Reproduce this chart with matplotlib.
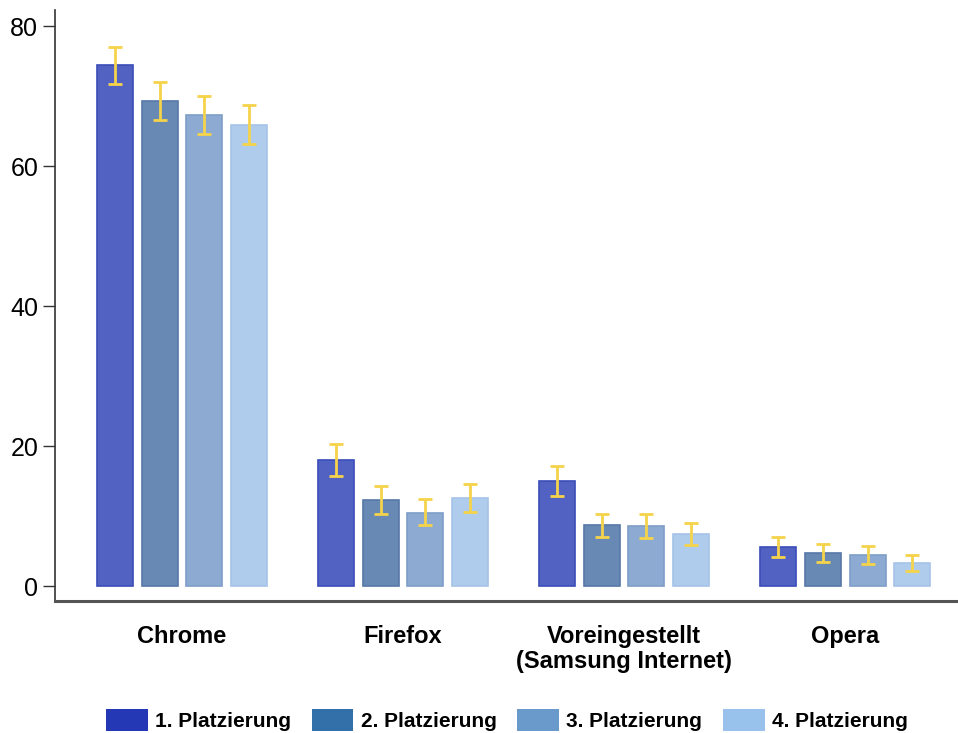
import matplotlib
matplotlib.use("Agg")
import matplotlib.pyplot as plt
import numpy as np
from matplotlib.patches import Patch

categories = ["Chrome", "Firefox", "Voreingestellt\n(Samsung Internet)", "Opera"]
series_names = ["1. Platzierung", "2. Platzierung", "3. Platzierung", "4. Platzierung"]
values = [
    [74.4, 18.0, 15.0, 5.6],
    [69.3, 12.3, 8.7, 4.7],
    [67.3, 10.4, 8.6, 4.4],
    [65.9, 12.6, 7.4, 3.3],
]
err_low = [
    [71.7, 15.7, 12.9, 4.1],
    [66.6, 10.3, 7.0, 3.4],
    [64.6, 8.7, 6.9, 3.1],
    [63.1, 10.6, 5.9, 2.1],
]
err_high = [
    [77.0, 20.3, 17.1, 7.0],
    [72.0, 14.3, 10.3, 6.0],
    [70.0, 12.4, 10.3, 5.7],
    [68.7, 14.6, 9.0, 4.4],
]
yticks = [0, 20, 40, 60, 80]

bar_faces = ["#5262C2", "#6889B3", "#8CAAD2", "#B0CCEC"]
bar_edges = ["#3A4DB8", "#5878A8", "#7E9DC8", "#A5C3E8"]
legend_colors = ["#2437B5", "#3370AA", "#6A9ACB", "#98C2EC"]
err_color = "#F5D34A"

font = "Liberation Sans"

fig = plt.figure(figsize=(9.58, 7.33), dpi=100)
ax = fig.add_axes([55/958, 1-601/733, 1-55/958, (601-10)/733])

x = np.arange(len(categories))
slot = 0.2015
width = 0.163
for i in range(4):
    pos = x + (i - 1.5) * slot
    v = np.array(values[i])
    lo = v - np.array(err_low[i])
    hi = np.array(err_high[i]) - v
    ax.bar(pos, v, width=width, color=bar_faces[i], edgecolor=bar_edges[i], linewidth=1.2, zorder=2)
    ax.errorbar(pos, v, yerr=[lo, hi], fmt="none", ecolor=err_color, elinewidth=2,
                capsize=5, capthick=2, zorder=3)

ax.set_xlim(-0.575, 3.51)
ax.set_ylim(-2.14, 82.3)
ax.set_yticks(yticks)
ax.set_yticklabels([str(t) for t in yticks], fontsize=18, family=font)
ax.tick_params(axis="y", length=9, width=1, color="#333333", pad=3)
ax.set_xticks(x)
ax.set_xticklabels(categories, fontsize=17, fontweight="bold", family=font, linespacing=1.15)
ax.tick_params(axis="x", length=0, pad=17)
for s in ["top", "right"]:
    ax.spines[s].set_visible(False)
ax.spines["left"].set_color("#333333")
ax.spines["left"].set_linewidth(1.2)
ax.spines["bottom"].set_color("#555555")
ax.spines["bottom"].set_linewidth(2.2)

handles = [Patch(facecolor=c, edgecolor="none") for c in legend_colors]
fig.legend(handles, series_names, loc="center", bbox_to_anchor=(507/958, 1-720/733), ncol=4,
           frameon=False, prop={"family": font, "weight": "bold", "size": 15},
           handlelength=2.0, handleheight=1.3, handletextpad=0.35, columnspacing=1.0)

fig.savefig("out.png", dpi=100)
